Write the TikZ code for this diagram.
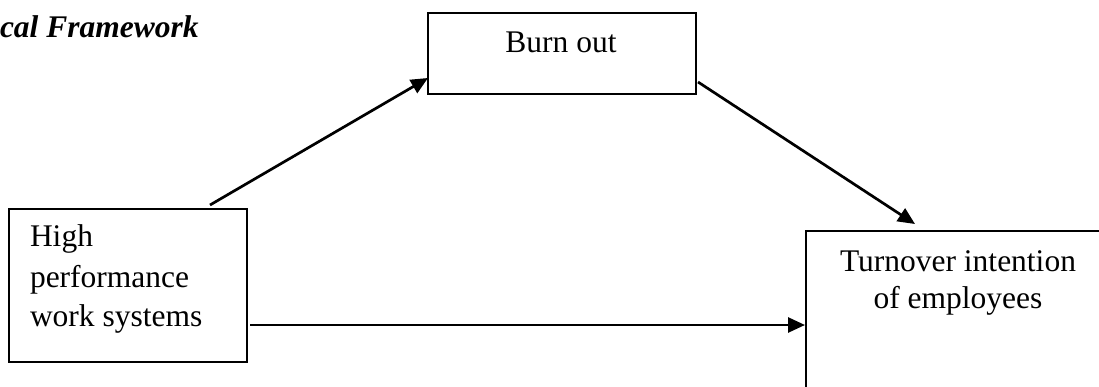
\documentclass[tikz,border=0pt]{standalone}
\usepackage{fontspec}
\setmainfont{Liberation Serif}
\usetikzlibrary{arrows.meta}
\begin{document}
\begin{tikzpicture}[x=1pt,y=-1pt,
  box/.style={draw=black, line width=2.1pt, rectangle, inner sep=0pt, outer sep=0pt},
  txt/.style={inner sep=0pt, outer sep=0pt, font=\fontsize{31.5}{38}\selectfont},
  title/.style={inner sep=0pt, outer sep=0pt, font=\fontsize{31.5}{38}\selectfont\bfseries\itshape},
  conn/.style={draw=black, line width=2.7pt, -{Triangle[length=17pt,width=15pt]}}]
\clip (0,0) rectangle (1099,387);
\fill[white] (0,0) rectangle (1099,387);

% title fragment
\node[title, anchor=base west] (title) at (0,38) {cal Framework};

% boxes
\node[box, minimum width=268pt, minimum height=81pt] (burn) at (562,53.5) {};
\node[box, minimum width=238pt, minimum height=153pt] (hp) at (128,285.5) {};
\node[box, minimum width=310pt, minimum height=200pt, anchor=north west] (turn) at (806,231) {};

% texts
\node[txt, anchor=base] (burnt) at (561,53) {Burn out};
\node[txt, anchor=base west] (hp1) at (30,247) {High};
\node[txt, anchor=base west] (hp2) at (30,287) {performance};
\node[txt, anchor=base west] (hp3) at (30,326) {work systems};
\node[txt, anchor=base] (t1) at (958,271) {Turnover intention};
\node[txt, anchor=base] (t2) at (958,308) {of employees};

% connectors
\draw[conn] ([shift={(82,-4)}]hp.north) -- ([shift={(0,24.5)}]burn.west);
\draw[conn] ([shift={(2,28.5)}]burn.east) -- ([shift={(109,-7)}]turn.north west);
\draw[conn] ([shift={(3,39.5)}]hp.east) -- ([shift={(-1,94)}]turn.north west);
\end{tikzpicture}
\end{document}
